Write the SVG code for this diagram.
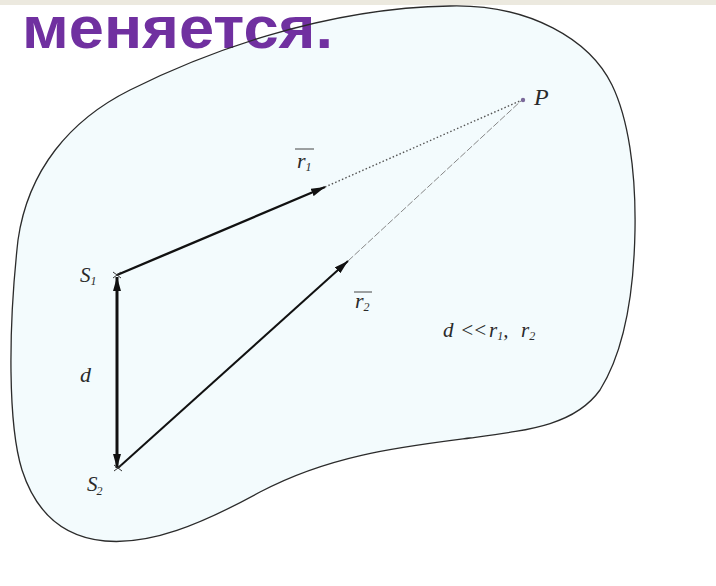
<svg xmlns="http://www.w3.org/2000/svg" width="716" height="586" viewBox="0 0 716 586">
  <style>
    .lbl { font-family: "Liberation Serif", "Times New Roman", serif; font-style: italic; fill: #2a2a2a; }
    .sub { font-size: 12px; }
    .title { font-family: "Liberation Sans", Arial, sans-serif; font-weight: bold; fill: #7030a0; }
    .thick { stroke: #111; fill: none; stroke-linecap: butt; }
    .outline { stroke: #2b2b2b; stroke-width: 1.3; }
  </style>
  <defs>
    <marker id="ah" viewBox="0 0 14 8" refX="14" refY="4" markerWidth="14" markerHeight="8" markerUnits="userSpaceOnUse" orient="auto-start-reverse">
      <path d="M0,0 L14,4 L0,8 Z" fill="#111"/>
    </marker>
    <path id="blobShape" d="M 450 6 C 530 4, 590 40, 612 85 C 628 118, 636 170, 635 230 C 634 290, 625 350, 600 390 C 575 425, 530 430, 470 438 C 400 447, 330 455, 260 492 C 200 525, 150 545, 105 541 C 60 537, 35 510, 22 470 C 8 425, 8 330, 18 240 C 28 170, 70 120, 130 90 C 200 55, 320 8, 450 6 Z"/>
  </defs>
  <rect x="0" y="0" width="716" height="586" fill="#ffffff"/>
  <rect x="0" y="0" width="716" height="5" fill="#ece9df"/>
  <g id="region-fill">
    <use href="#blobShape" fill="#f3fbfd"/>
  </g>
  <g id="title">
    <text class="title" x="22" y="48" font-size="60" textLength="311" lengthAdjust="spacingAndGlyphs">меняется.</text>
  </g>
  <g id="region-outline">
    <use href="#blobShape" fill="none" class="outline"/>
  </g>
  <g id="connectors">
    <line x1="117" y1="275" x2="325" y2="187" class="thick" stroke-width="2.4" marker-end="url(#ah)"/>
    <line x1="325" y1="187" x2="522" y2="100" stroke="#555" stroke-width="1.4" stroke-dasharray="1.5 2.2"/>
    <line x1="118" y1="468" x2="348" y2="261" class="thick" stroke-width="2" marker-end="url(#ah)"/>
    <line x1="348" y1="261" x2="522" y2="100" stroke="#888" stroke-width="1" stroke-dasharray="7 2"/>
    <line x1="117" y1="277" x2="117" y2="468" class="thick" stroke-width="3" marker-start="url(#ah)" marker-end="url(#ah)"/>
  </g>
  <g id="S1">
    <path d="M113,272 L121,278 M113,278 L121,272" stroke="#333" stroke-width="1"/>
    <text class="lbl" x="80" y="282" font-size="21">S<tspan class="sub" dx="0" dy="3">1</tspan></text>
  </g>
  <g id="S2">
    <path d="M114,465 L122,471 M114,471 L122,465" stroke="#333" stroke-width="1"/>
    <text class="lbl" x="87" y="491" font-size="21">S<tspan class="sub" dx="-1" dy="4">2</tspan></text>
  </g>
  <g id="P">
    <circle cx="523" cy="100" r="2.2" fill="#7b6a9b"/>
    <text class="lbl" x="534" y="105" font-size="24">P</text>
  </g>
  <g id="labels">
    <text class="lbl" x="80" y="382" font-size="22">d</text>
    <line x1="295" y1="149" x2="314" y2="149" stroke="#444" stroke-width="1"/>
    <text class="lbl" x="297" y="168" font-size="22">r<tspan class="sub" dy="3">1</tspan></text>
    <line x1="354" y1="292" x2="372" y2="292" stroke="#444" stroke-width="1"/>
    <text class="lbl" x="355" y="308" font-size="22">r<tspan class="sub" dy="3">2</tspan></text>
    <text class="lbl" x="443" y="337" font-size="21">d<tspan x="460">&lt;</tspan><tspan x="473">&lt;</tspan><tspan x="489">r</tspan><tspan class="sub" dy="3">1</tspan><tspan dy="-3">, </tspan><tspan x="521">r</tspan><tspan class="sub" dy="3">2</tspan></text>
  </g>
</svg>
